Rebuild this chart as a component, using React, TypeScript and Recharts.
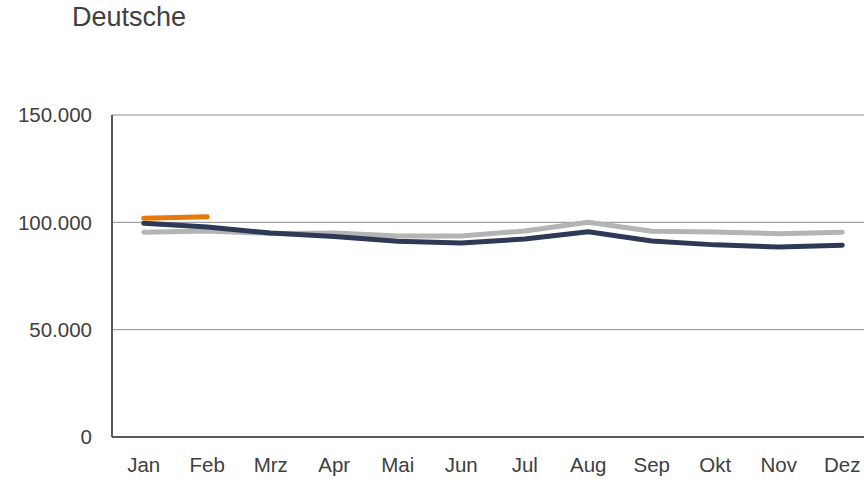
import { LineChart, Line, XAxis, YAxis, CartesianGrid } from "recharts";

// Monatswerte
const months = ["Jan", "Feb", "Mrz", "Apr", "Mai", "Jun", "Jul", "Aug", "Sep", "Okt", "Nov", "Dez"];
const seriesGray = [95400, 96000, 94800, 95000, 93600, 93600, 96000, 100000, 95800, 95500, 94700, 95400];
const seriesDark = [99600, 97800, 95000, 93400, 91200, 90400, 92200, 95600, 91300, 89500, 88500, 89300];
const seriesOrange: (number | null)[] = [101900, 102600, null, null, null, null, null, null, null, null, null, null];
const yTicks = [0, 50000, 100000, 150000];

const data = months.map((m, i) => ({
  month: m,
  gray: seriesGray[i],
  dark: seriesDark[i],
  orange: seriesOrange[i],
}));

const fmt = (v: number) => String(v).replace(/\B(?=(\d{3})+(?!\d))/g, ".");

const font = "Arial, 'Liberation Sans', sans-serif";

export default function App() {
  return (
    <div
      style={{
        position: "absolute",
        left: 0,
        top: 0,
        width: 864,
        height: 480,
        overflow: "hidden",
        background: "#fff",
        fontFamily: font,
      }}
    >
      <div
        style={{
          position: "absolute",
          left: 72,
          top: 4,
          fontSize: 27,
          lineHeight: "27px",
          color: "#404040",
        }}
      >
        Deutsche
      </div>
      <LineChart
        width={880}
        height={480}
        data={data}
        margin={{ top: 115, right: 6, bottom: 0, left: 0 }}
      >
        <CartesianGrid vertical={false} stroke="#8c8c8c" strokeWidth={1} />
        <XAxis
          dataKey="month"
          padding={{ left: 31.75, right: 31.75 }}
          height={43}
          tickLine={false}
          tickSize={0}
          tickMargin={20}
          axisLine={{ stroke: "#595959", strokeWidth: 2 }}
          tick={{ fill: "#404040", fontSize: 20.5, fontFamily: font }}
          interval={0}
        />
        <YAxis
          width={112}
          domain={[0, 150000]}
          ticks={yTicks}
          tickFormatter={fmt}
          tickLine={false}
          tickSize={0}
          tickMargin={20}
          axisLine={{ stroke: "#595959", strokeWidth: 2 }}
          tick={{ fill: "#404040", fontSize: 20.5, fontFamily: font }}
        />
        <Line
          dataKey="gray"
          stroke="#b4b4b4"
          strokeWidth={5}
          dot={false}
          strokeLinecap="round"
          strokeLinejoin="round"
          isAnimationActive={false}
        />
        <Line
          dataKey="dark"
          stroke="#2e3a55"
          strokeWidth={5}
          dot={false}
          strokeLinecap="round"
          strokeLinejoin="round"
          isAnimationActive={false}
        />
        <Line
          dataKey="orange"
          stroke="#e8780c"
          strokeWidth={5}
          dot={false}
          strokeLinecap="round"
          strokeLinejoin="round"
          connectNulls={false}
          isAnimationActive={false}
        />
      </LineChart>
    </div>
  );
}
